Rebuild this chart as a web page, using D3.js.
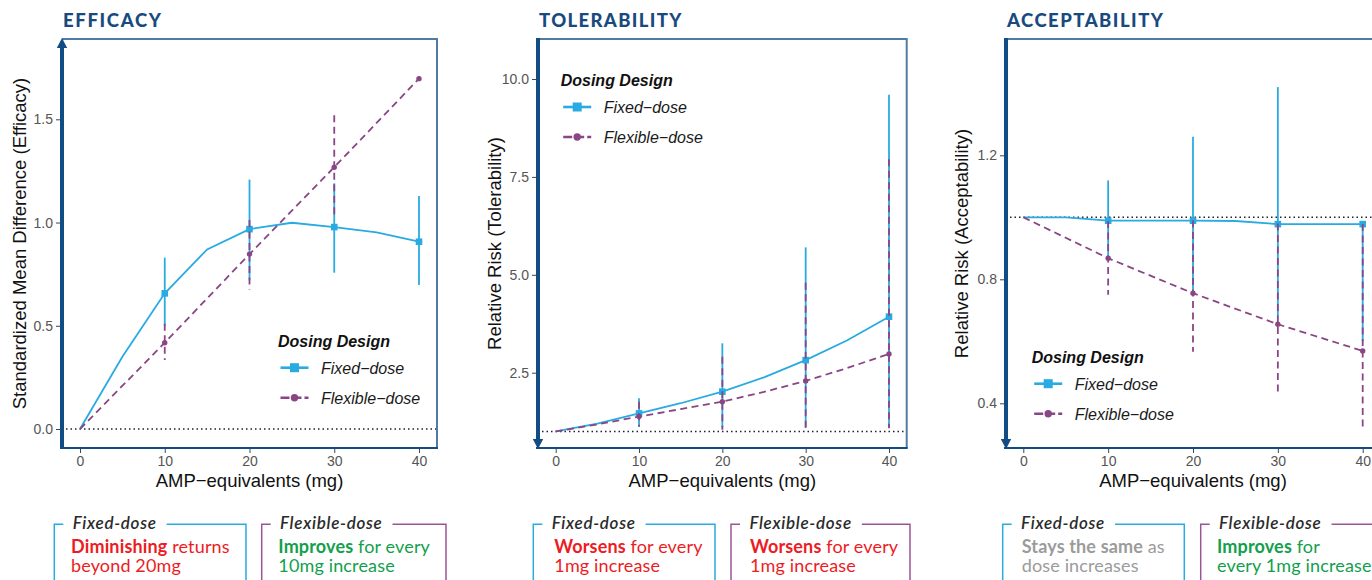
<!DOCTYPE html>
<html>
<head>
<meta charset="utf-8">
<script src="https://cdn.jsdelivr.net/npm/d3@7"></script>
<style>
  body { margin: 0; background: #fff; }
  svg { display: block; }
  .chart text { font-family: "Liberation Sans", Arial, sans-serif; }
  .note text { font-family: Lato, "Open Sans", sans-serif; }
</style>
</head>
<body>
<svg id="chart" width="1372" height="580"></svg>
<script>
// dose grid
const doses = [0, 10, 20, 30, 40];
const lineDoses = [0, 5, 10, 15, 20, 25, 30, 35, 40];
const errDoses = [10, 20, 30, 40];

// EFFICACY (standardized mean difference)
const effFixedLine = [0, 0.35, 0.657, 0.87, 0.968, 0.999, 0.978, 0.952, 0.907];
const effFixedLo = [0.50, 0.72, 0.757, 0.697];
const effFixedHi = [0.83, 1.208, 1.19, 1.129];
const effFlexLine = [0, 0.418, 0.847, 1.268, 1.697];
const effFlexLo = [0.334, 0.676, 1.03, null];
const effFlexHi = [0.51, 1.012, 1.52, null];
const effTicks = [0.0, 0.5, 1.0, 1.5];

// TOLERABILITY (relative risk)
const tolFixedLine = [1.0, 1.2, 1.46, 1.72, 2.015, 2.38, 2.82, 3.33, 3.93];
const tolFixedLo = [1.12, 1.1, 1.1, 1.1];
const tolFixedHi = [1.85, 3.25, 5.70, 9.6];
const tolFlexLine = [1.0, 1.18, 1.38, 1.57, 1.76, 2.01, 2.29, 2.62, 2.98];
const tolFlexLo = [1.12, 1.04, 1.05, 1.08];
const tolFlexHi = [1.76, 2.91, 4.80, 7.95];
const tolTicks = [2.5, 5.0, 7.5, 10.0];

// ACCEPTABILITY (relative risk)
const accFixedLine = [1.0, 1.0, 0.989, 0.989, 0.989, 0.988, 0.978, 0.978, 0.978];
const accFixedLo = [0.86, 0.76, 0.68, 0.60];
const accFixedHi = [1.119, 1.26, 1.42, null];
const accFlexLine = [1.0, 0.868, 0.755, 0.655, 0.569];
const accFlexLo = [0.75, 0.566, 0.427, 0.325];
const accFlexHi = [0.988, 0.99, 0.98, 0.978];
const accTicks = [0.4, 0.8, 1.2];

const xTicks = [0, 10, 20, 30, 40];
const seriesNames = ["Fixed\u2212dose", "Flexible\u2212dose"];

// notes under each panel: [fixed, flexible]
const effNotes = [
  [[["Diminishing", true], [" returns", false]], [["beyond 20mg", false]]],
  [[["Improves", true], [" for every", false]], [["10mg increase", false]]]
];
const tolNotes = [
  [[["Worsens", true], [" for every", false]], [["1mg increase", false]]],
  [[["Worsens", true], [" for every", false]], [["1mg increase", false]]]
];
const accNotes = [
  [[["Stays the same", true], [" as", false]], [["dose increases", false]]],
  [[["Improves", true], [" for", false]], [["every 1mg increase", false]]]
];

const cyan = "#29abe2", purple = "#8a4585";
const navy = "#124c85", steel = "#4f7ba5";
const red = "#ed1c24", green = "#12a04c", grey = "#9b9b9b";

const panels = [
  {title: "EFFICACY", titleW: 98, ytitle: "Standardized Mean Difference (Efficacy)", up: true,
   x0: 62, x1: 437, xr: [80, 419], yd: [0, 1.5], yr: [429, 119.3], ref: 0, yticks: effTicks,
   fmt: d3.format(".1f"),
   fixed: {line: effFixedLine, lo: effFixedLo, hi: effFixedHi},
   flex: {line: effFlexLine, lo: effFlexLo, hi: effFlexHi},
   legend: [278, 346.7], notes: effNotes, colors: [red, green],
   boxes: [[54.3, 246, 71], [261.7, 446, 278.3]], ytx: 25.5},
  {title: "TOLERABILITY", titleW: 142.5, ytitle: "Relative Risk (Tolerability)", up: false,
   x0: 538, x1: 906.7, xr: [555.7, 889], yd: [2.5, 10], yr: [372.7, 79], ref: 1, yticks: tolTicks,
   fmt: d3.format(".1f"),
   fixed: {line: tolFixedLine, lo: tolFixedLo, hi: tolFixedHi},
   flex: {line: tolFlexLine, lo: tolFlexLo, hi: tolFlexHi},
   legend: [560.7, 86], notes: tolNotes, colors: [red, red],
   boxes: [[533.3, 715, 554.3], [731, 910, 750]], ytx: 500.5},
  {title: "ACCEPTABILITY", titleW: 156, ytitle: "Relative Risk (Acceptability)", up: false,
   x0: 1006, x1: 1381, xr: [1023.3, 1362.7], yd: [0.4, 1.2], yr: [403.3, 155.3], ref: 1, yticks: accTicks,
   fmt: d3.format(".1f"),
   fixed: {line: accFixedLine, lo: accFixedLo, hi: accFixedHi},
   flex: {line: accFlexLine, lo: accFlexLo, hi: accFlexHi},
   legend: [1031.7, 362.7], notes: accNotes, colors: [grey, green],
   boxes: [[1002.7, 1184.3, 1021.7], [1200.7, 1390, 1217]], ytx: 968}
];

const plotTop = 39, plotBottom = 448;
const svg = d3.select("#chart");

panels.forEach(p => drawPanel(p));

function drawPanel(p) {
  const x = d3.scaleLinear().domain([0, 40]).range(p.xr);
  const y = d3.scaleLinear().domain(p.yd).range(p.yr);
  const g = svg.append("g").attr("class", "chart");

  // title
  g.append("text").attr("x", p.x0 + 1).attr("y", 27)
    .style("font-family", "Lato, sans-serif").style("font-weight", 900)
    .style("font-size", "18.5px")
    .attr("textLength", p.titleW).attr("lengthAdjust", "spacing")
    .attr("fill", "#184a80").text(p.title);

  // reference line
  g.append("line").attr("x1", p.x0 + 4).attr("x2", p.x1)
    .attr("y1", y(p.ref)).attr("y2", y(p.ref))
    .attr("stroke", "#222").attr("stroke-width", 1.5).attr("stroke-dasharray", "1.5,3");

  // frame
  g.append("path").attr("d", `M${p.x0},${plotTop}H${p.x1}V${plotBottom}`)
    .attr("fill", "none").attr("stroke", steel).attr("stroke-width", 2);
  g.append("line").attr("x1", p.x0 - 2).attr("x2", p.x1 + 1).attr("y1", plotBottom).attr("y2", plotBottom)
    .attr("stroke", navy).attr("stroke-width", 2);

  // axes
  const ya = g.append("g").attr("transform", `translate(${p.x0 - 2},0)`)
    .call(d3.axisLeft(y).tickValues(p.yticks).tickFormat(p.fmt).tickSize(4).tickPadding(3));
  ya.select(".domain").remove();
  ya.selectAll("line").attr("stroke", "#444");
  ya.selectAll("text").attr("fill", "#555").style("font-size", "14px")
    .style("font-family", "Liberation Sans, Arial, sans-serif");

  const xa = g.append("g").attr("transform", `translate(0,${plotBottom + 1})`)
    .call(d3.axisBottom(x).tickValues(xTicks).tickSize(4).tickPadding(3));
  xa.select(".domain").remove();
  xa.selectAll("line").attr("stroke", "#444");
  xa.selectAll("text").attr("fill", "#555").style("font-size", "14px")
    .style("font-family", "Liberation Sans, Arial, sans-serif");

  // thick arrow axis
  const ah = 9, aw = 5.2;
  if (p.up) {
    g.append("line").attr("x1", p.x0).attr("x2", p.x0).attr("y1", plotBottom + 1).attr("y2", plotTop + ah - 1)
      .attr("stroke", navy).attr("stroke-width", 4);
    g.append("path").attr("d", `M${p.x0},${plotTop - 1}L${p.x0 + aw},${plotTop + ah}L${p.x0 - aw},${plotTop + ah}Z`).attr("fill", navy);
  } else {
    g.append("line").attr("x1", p.x0).attr("x2", p.x0).attr("y1", plotTop - 1).attr("y2", plotBottom - ah + 1)
      .attr("stroke", navy).attr("stroke-width", 4);
    g.append("path").attr("d", `M${p.x0},${plotBottom + 1}L${p.x0 + aw},${plotBottom - ah}L${p.x0 - aw},${plotBottom - ah}Z`).attr("fill", navy);
  }

  // axis titles
  g.append("text").attr("x", (p.xr[0] + p.xr[1]) / 2).attr("y", 487)
    .attr("text-anchor", "middle").style("font-size", "18.5px").attr("fill", "#111")
    .text("AMP\u2212equivalents (mg)");
  g.append("text").attr("transform", `translate(${p.ytx},${(plotTop + plotBottom) / 2}) rotate(-90)`)
    .attr("text-anchor", "middle").style("font-size", "18.5px").attr("fill", "#111")
    .text(p.ytitle);

  // series
  const fixedPts = p.fixed.line.map((v, i) => ({d: lineDoses[i], v}));
  const flexDoses = p.flex.line.length === doses.length ? doses : lineDoses;
  const flexPts = p.flex.line.map((v, i) => ({d: flexDoses[i], v}));
  const line = d3.line().x(d => x(d.d)).y(d => y(d.v));

  g.append("path").datum(fixedPts).attr("d", line)
    .attr("fill", "none").attr("stroke", cyan).attr("stroke-width", 1.8);
  g.append("path").datum(flexPts).attr("d", line)
    .attr("fill", "none").attr("stroke", purple).attr("stroke-width", 1.8).attr("stroke-dasharray", "7,4.5");

  const valAt = (pts, d) => pts.find(q => q.d === d).v;
  const fixedMarks = errDoses.map((d, i) => ({d, v: valAt(fixedPts, d), lo: p.fixed.lo[i], hi: p.fixed.hi[i]}));
  const flexMarks = errDoses.map((d, i) => ({d, v: valAt(flexPts, d), lo: p.flex.lo[i], hi: p.flex.hi[i]}));

  g.selectAll(".fixsq").data(fixedMarks).join("rect")
    .attr("x", d => x(d.d) - 3.3).attr("y", d => y(d.v) - 3.3)
    .attr("width", 6.6).attr("height", 6.6).attr("fill", cyan);
  g.selectAll(".fixbar").data(fixedMarks.filter(d => d.lo != null)).join("line")
    .attr("x1", d => x(d.d)).attr("x2", d => x(d.d))
    .attr("y1", d => y(d.lo)).attr("y2", d => y(d.hi == null ? d.v : d.hi))
    .attr("stroke", cyan).attr("stroke-width", 1.8);
  g.selectAll(".flexdot").data(flexMarks).join("circle")
    .attr("cx", d => x(d.d)).attr("cy", d => y(d.v)).attr("r", 2.7).attr("fill", purple);
  g.selectAll(".flexbar").data(flexMarks.filter(d => d.lo != null)).join("line")
    .attr("x1", d => x(d.d)).attr("x2", d => x(d.d))
    .attr("y1", d => y(d.hi)).attr("y2", d => y(d.lo))
    .attr("stroke", purple).attr("stroke-width", 1.8).attr("stroke-dasharray", "7,4.5");

  // legend
  const [lx, ly] = p.legend;
  const lg = g.append("g");
  lg.append("text").attr("x", lx).attr("y", ly).style("font-size", "16px")
    .style("font-weight", "bold").style("font-style", "italic").attr("fill", "#111").text("Dosing Design");
  seriesNames.forEach((name, i) => {
    const yy = ly + 21 + i * 30;
    const col = i === 0 ? cyan : purple;
    lg.append("line").attr("x1", lx + 2.5).attr("x2", lx + 30.5).attr("y1", yy).attr("y2", yy)
      .attr("stroke", col).attr("stroke-width", 2.6).attr("stroke-dasharray", i === 0 ? null : "9,3");
    if (i === 0) lg.append("rect").attr("x", lx + 16.5 - 4.5).attr("y", yy - 4.5).attr("width", 9).attr("height", 9).attr("fill", col);
    else lg.append("circle").attr("cx", lx + 16.5).attr("cy", yy).attr("r", 3.7).attr("fill", col);
    lg.append("text").attr("x", lx + 43).attr("y", yy + 5.8).style("font-size", "16px")
      .style("font-style", "italic").attr("fill", "#1a1a1a").text(name);
  });

  // note boxes
  const labels = ["Fixed-dose", "Flexible-dose"];
  const strokes = [cyan, "#985697"];
  p.boxes.forEach((b, i) => {
    const [bl, br, tx] = b;
    const ng = svg.append("g").attr("class", "note");
    const lab = ng.append("text").attr("x", bl + 18.4).attr("y", 529)
      .style("font-size", "17px").style("font-style", "italic").style("font-weight", 600)
      .style("letter-spacing", "0.7px")
      .attr("fill", "#2b2b2b").text(labels[i]);
    const w = lab.node().getComputedTextLength();
    ng.append("path")
      .attr("d", `M${bl + 9},${524.3}H${bl}V600M${br},600V${524.3}H${bl + 18.4 + w + 10}`)
      .attr("fill", "none").attr("stroke", strokes[i]).attr("stroke-width", 1.5);
    p.notes[i].forEach((row, r) => {
      const t = ng.append("text").attr("x", tx).attr("y", 553.3 + r * 19)
        .style("font-size", "18px").style("letter-spacing", "0.15px").attr("fill", p.colors[i]);
      row.forEach(([s, bold]) => t.append("tspan").style("font-weight", bold ? 700 : 400).text(s));
    });
  });
}
</script>
</body>
</html>
